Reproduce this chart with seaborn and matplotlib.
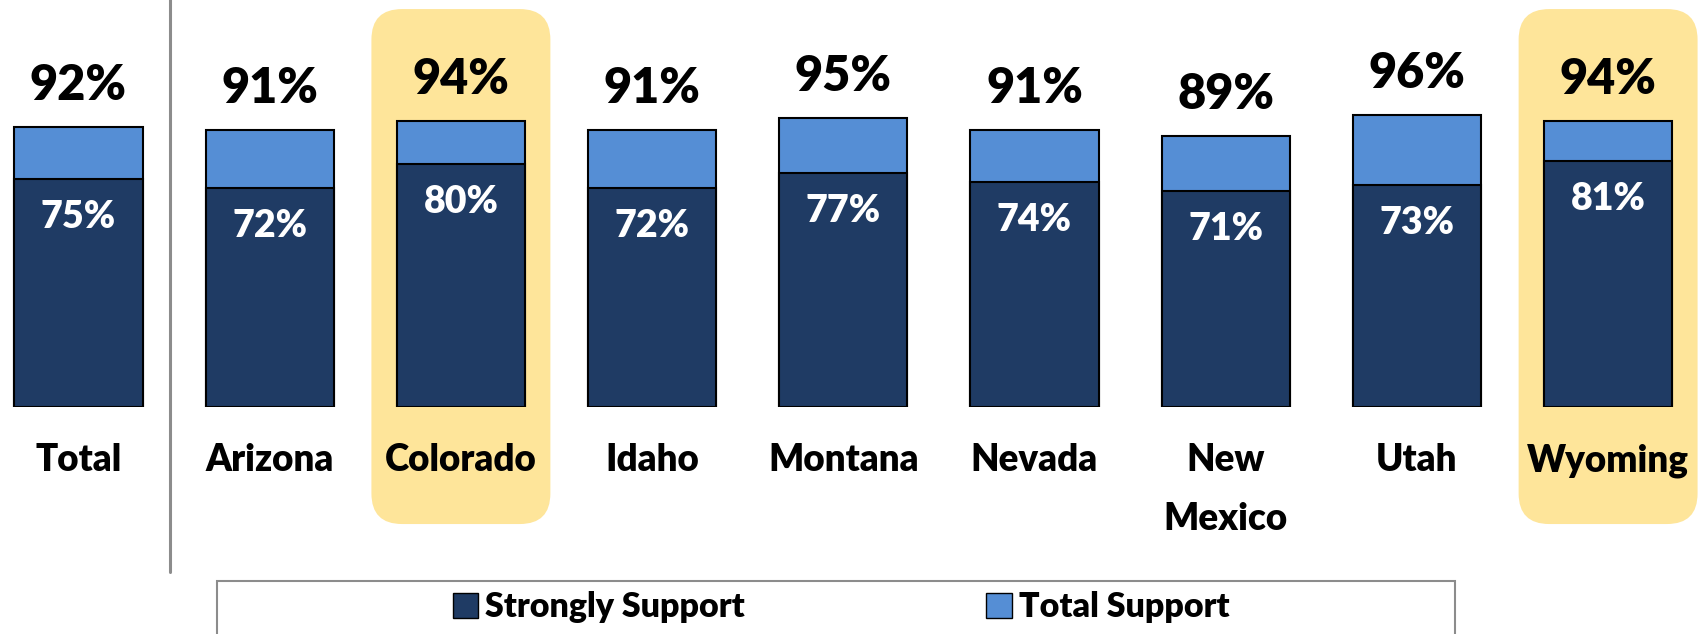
import matplotlib
matplotlib.use("Agg")
import matplotlib.pyplot as plt
import seaborn as sns
import pandas as pd
from matplotlib.patches import FancyBboxPatch, Rectangle, Patch

# ------------------------------------------------------------------
# data
# ------------------------------------------------------------------
states = ["Total", "Arizona", "Colorado", "Idaho", "Montana", "Nevada",
          "New\nMexico", "Utah", "Wyoming"]
total_support = [92, 91, 94, 91, 95, 91, 89, 96, 94]
strongly_support = [75, 72, 80, 72, 77, 74, 71, 73, 81]
highlighted = ["Colorado", "Wyoming"]

DARK = "#1F3B64"
LIGHT = "#558ED5"
HIGHLIGHT = "#FEE59A"
GREY = "#8C8C8C"
WEIGHT = "heavy"

sns.set_theme(style="white")
plt.rcParams["font.family"] = ["Lato", "DejaVu Sans"]
plt.rcParams["text.color"] = "black"

W, H = 1708, 634
fig = plt.figure(figsize=(W / 100, H / 100), dpi=100)

# axes run from the bar baseline (407 px from top) up to the top edge
base_px = 407
px_per_cat = 191.2
x0_px = 78.5
px_per_pct = 3.04
ax = fig.add_axes([0, (H - base_px) / H, 1, base_px / H])

df = pd.DataFrame({"state": states, "total": total_support, "strong": strongly_support})
sns.barplot(data=df, x="state", y="total", color=LIGHT, saturation=1, width=0.67,
            edgecolor="black", linewidth=1.5, ax=ax, zorder=3)
sns.barplot(data=df, x="state", y="strong", color=DARK, saturation=1, width=0.67,
            edgecolor="black", linewidth=1.5, ax=ax, zorder=4)

ax.set_xlim(-x0_px / px_per_cat, (W - x0_px) / px_per_cat)
ax.set_ylim(0, base_px / px_per_pct)
ax.set_xlabel("")
ax.set_ylabel("")
ax.set_yticks([])
sns.despine(ax=ax, left=True, bottom=True)
ax.patch.set_alpha(0)

# highlight boxes behind selected states
aspect = px_per_cat / px_per_pct
for i, s in enumerate(states):
    if s in highlighted:
        box = FancyBboxPatch((i - 0.468, -38.5), 0.936, 169.4,
                             boxstyle="round,pad=0,rounding_size=0.16",
                             mutation_aspect=aspect, fc=HIGHLIGHT, ec="none",
                             clip_on=False, zorder=0)
        ax.add_patch(box)

# value labels
for i, (t, s) in enumerate(zip(total_support, strongly_support)):
    ax.text(i, t + 13.8, f"{t}%", ha="center", va="center", fontsize=35,
            fontweight=WEIGHT, color="black", zorder=5)
    ax.text(i, s - 12.5, f"{s}%", ha="center", va="center", fontsize=27,
            fontweight=WEIGHT, color="white", zorder=5)

# separator between Total and the states
ax.plot([0.48, 0.48], [-54.3, 140], color=GREY, lw=2.2, clip_on=False, zorder=1)

ax.tick_params(axis="x", length=0, pad=26, labelsize=26.5, labelcolor="black")
for lab in ax.get_xticklabels():
    lab.set_fontweight(WEIGHT)
    lab.set_linespacing(1.9)

# legend with a wide grey frame
fig.patches.append(Rectangle((217 / W, -0.05), (1455 - 217) / W, 0.05 + (634 - 581) / H,
                             transform=fig.transFigure, fill=False, ec=GREY, lw=1.5))
handles = [Patch(fc=DARK, ec="black", label="Strongly Support"),
           Patch(fc=LIGHT, ec="black", label="Total Support")]
fig.legend(handles=handles, loc="center", bbox_to_anchor=(841 / W, 1 - 607 / H), ncol=2,
           frameon=False, prop={"size": 24.5, "weight": WEIGHT}, handlelength=0.75,
           handleheight=0.75, handletextpad=0.2, columnspacing=7.1)

fig.savefig("out.png", dpi=100)
